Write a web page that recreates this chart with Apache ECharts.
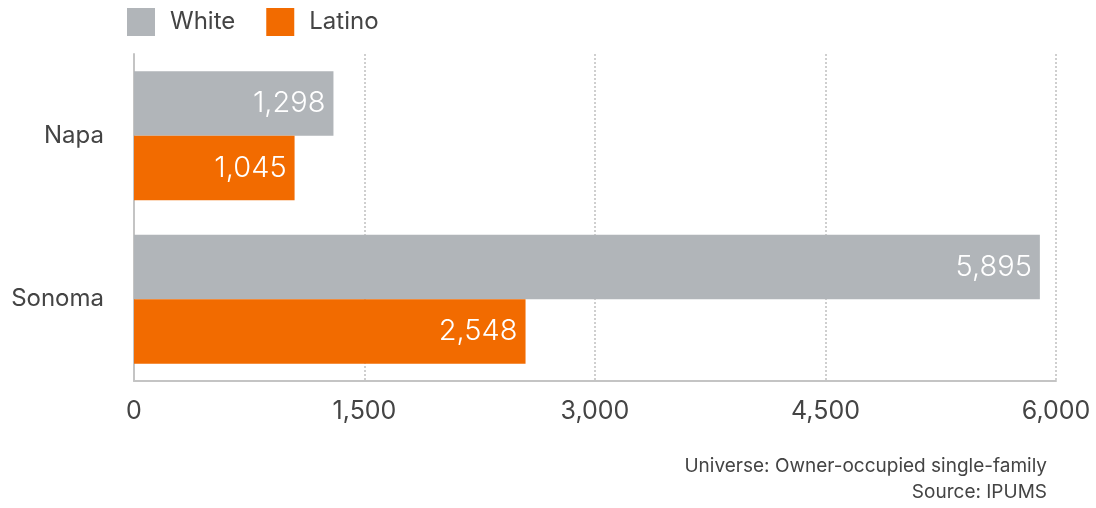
<!DOCTYPE html>
<html>
<head>
<meta charset="utf-8">
<script src="https://cdn.jsdelivr.net/npm/echarts@6/dist/echarts.min.js"></script>
<style>
html,body{margin:0;padding:0;background:#fff;}
#chart{width:1096px;height:508px;}
</style>
</head>
<body>
<div id="chart"></div>
<script>
const categories = ["Napa", "Sonoma"];
const whiteValues = [1298, 5895];
const latinoValues = [1045, 2548];
const xTicks = [0, 1500, 3000, 4500, 6000];
const seriesNames = ["White", "Latino"];
const footerLines = ["Universe: Owner-occupied single-family", "Source: IPUMS"];

const FONT = "Inter, 'Noto Sans', sans-serif";
const chart = echarts.init(document.getElementById('chart'));
const fmt = v => v.toLocaleString('en-US');

const labelStyle = {
  show: true,
  position: 'insideRight',
  distance: 8,
  color: '#ffffff',
  fontSize: 29,
  fontWeight: 300,
  fontFamily: FONT,
  formatter: p => fmt(p.value)
};

chart.setOption({
  animation: false,
  backgroundColor: '#ffffff',
  legend: {
    data: seriesNames,
    left: 127,
    top: 8,
    padding: 0,
    itemWidth: 28,
    itemHeight: 28,
    itemGap: 31,
    icon: 'rect',
    textStyle: { fontSize: 24, color: '#444', fontFamily: FONT, padding: [0, 0, 0, 10] }
  },
  grid: { left: 134, right: 40, top: 54, bottom: 127 },
  xAxis: {
    type: 'value',
    min: xTicks[0],
    max: xTicks[xTicks.length - 1],
    interval: xTicks[1] - xTicks[0],
    axisLine: { show: true, lineStyle: { color: '#c4c4c4', width: 2 } },
    axisTick: { show: false },
    axisLabel: { formatter: v => fmt(v), fontSize: 25, color: '#444', fontFamily: FONT, margin: 18 },
    splitLine: { show: true, lineStyle: { type: [2, 2], color: '#cfcfcf', width: 2 } }
  },
  yAxis: {
    type: 'category',
    data: categories,
    inverse: true,
    axisLine: { show: true, lineStyle: { color: '#c4c4c4', width: 2 } },
    axisTick: { show: false },
    axisLabel: { fontSize: 24, color: '#444', fontFamily: FONT, margin: 30 }
  },
  series: [
    {
      name: seriesNames[0], type: 'bar', data: whiteValues,
      itemStyle: { color: '#b1b5b9' },
      barGap: '0%', barCategoryGap: '21%',
      label: labelStyle
    },
    {
      name: seriesNames[1], type: 'bar', data: latinoValues,
      itemStyle: { color: '#f26b00' },
      barGap: '0%', barCategoryGap: '21%',
      label: labelStyle
    }
  ],
  graphic: footerLines.map((t, i) => ({
    type: 'text',
    right: 49,
    top: 457 + i * 26,
    style: { text: t, fontSize: 19, fill: '#444', fontFamily: FONT, textAlign: 'right' }
  }))
});
</script>
</body>
</html>
